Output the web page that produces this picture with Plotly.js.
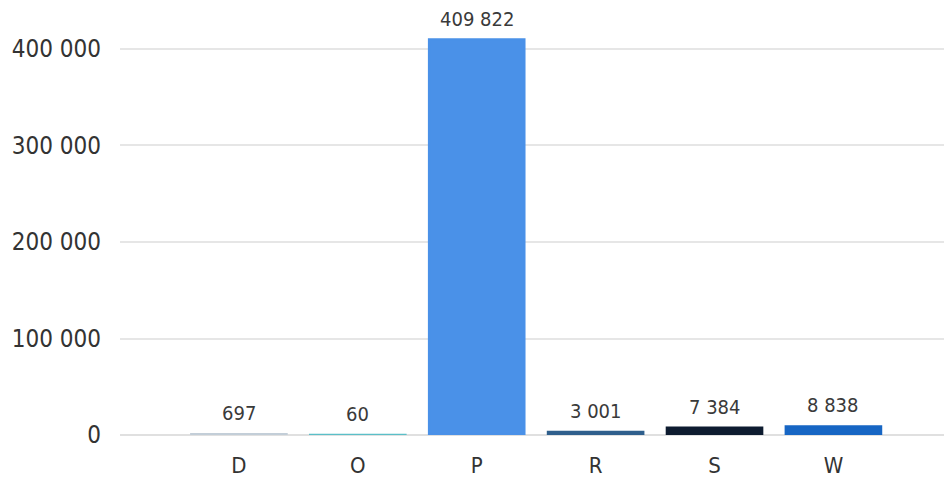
<!DOCTYPE html>
<html>
<head>
<meta charset="utf-8">
<script src="https://cdn.plot.ly/plotly-3.0.1.min.js"></script>
<style>html,body{margin:0;padding:0;background:#fff;}#chart{width:944px;height:477px;}</style>
</head>
<body>
<div id="chart"></div>
<script>
var categories = ["D", "O", "P", "R", "S", "W"];
var values = [697, 60, 409822, 3001, 7384, 8838];
var barColors = ["#c3ced8", "#5bbfc8", "#4a91e8", "#2f5f8c", "#0e1c30", "#1766c4"];
var yTickValues = [0, 100000, 200000, 300000, 400000];

var fontFamily = "DejaVu Sans Condensed, DejaVu Sans, sans-serif";
function fmt(v) { return v.toLocaleString("fr-FR").replace(/\u202f|\u00a0/g, " "); }

var trace = {
  type: "bar",
  x: categories,
  y: values,
  width: 0.8,
  marker: { color: barColors, line: { color: barColors, width: 2.5 } },
  hoverinfo: "none"
};

var annotations = categories.map(function (c, i) {
  return {
    x: c, y: values[i], xref: "x", yref: "y",
    text: fmt(values[i]),
    showarrow: false, yanchor: "bottom", yshift: 7,
    font: { family: fontFamily, size: 20, color: "#3a3a3a" }
  };
});

var layout = {
  width: 944, height: 477,
  margin: { l: 120, r: 0, t: 10, b: 42 },
  paper_bgcolor: "#ffffff", plot_bgcolor: "#ffffff",
  showlegend: false,
  xaxis: {
    type: "category",
    range: [-1, 5.93],
    showgrid: false, zeroline: false, showline: false,
    ticks: "", ticklabelstandoff: 15,
    tickfont: { family: fontFamily, size: 22, color: "#333" }
  },
  yaxis: {
    range: [0, 440400],
    tickvals: yTickValues,
    ticktext: yTickValues.map(fmt),
    showgrid: true, gridcolor: "#e6e6e6", gridwidth: 2,
    zeroline: true, zerolinecolor: "#e0e0e0", zerolinewidth: 2,
    showline: false, ticks: "", ticklabelstandoff: 18,
    tickfont: { family: fontFamily, size: 24, color: "#333" }
  },
  annotations: annotations
};

Plotly.newPlot("chart", [trace], layout, { displayModeBar: false, staticPlot: true });
</script>
</body>
</html>
